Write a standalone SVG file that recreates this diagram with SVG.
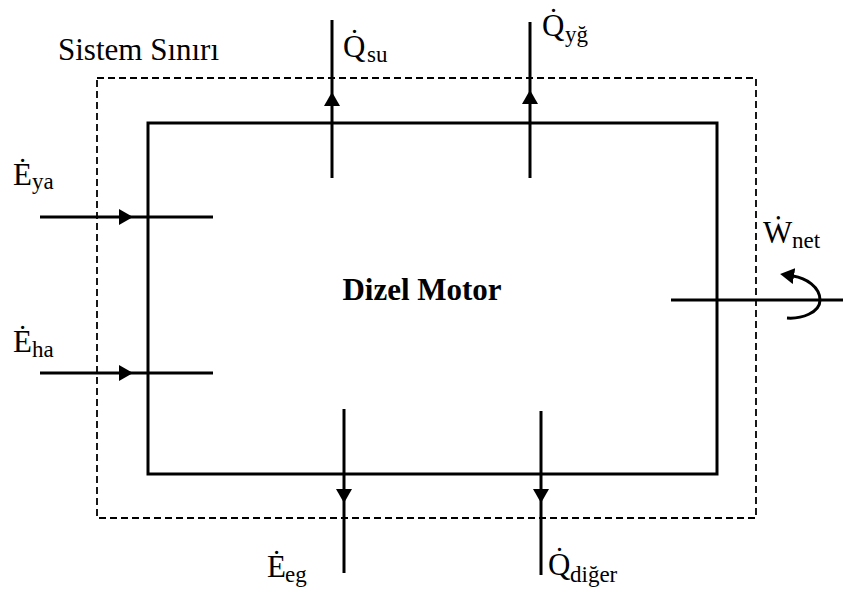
<svg xmlns="http://www.w3.org/2000/svg" width="843" height="592" viewBox="0 0 843 592">
  <style>
    text { font-family: 'Liberation Serif', 'Times New Roman', serif !important; fill: #000; }
    .solid { fill: none; stroke: #000; stroke-width: 3; }
    .dash { fill: none; stroke: #000; stroke-width: 1.8; stroke-dasharray: 7 4; }
    .flow { fill: none; stroke: #000; stroke-width: 3; marker-mid: url(#ah); }
  </style>
  <defs>
    <marker id="ah" markerUnits="userSpaceOnUse" viewBox="0 0 14 16" refX="14" refY="8" markerWidth="14" markerHeight="16" orient="auto">
      <path d="M0,0 L14,8 L0,16 Z" fill="#000"/>
    </marker>
    <marker id="ahEnd" markerUnits="userSpaceOnUse" viewBox="0 0 14 16" refX="1" refY="8" markerWidth="14" markerHeight="16" orient="auto">
      <path d="M0,0 L14,8 L0,16 Z" fill="#000"/>
    </marker>
  </defs>

  <g id="system-boundary">
    <rect class="dash" x="97" y="78" width="659" height="440"/>
    <text x="58" y="60" style="font-family:'Liberation Serif',serif;font-size:31px">Sistem S&#305;n&#305;r&#305;</text>
  </g>

  <g id="dizel-motor">
    <rect class="solid" x="148" y="123" width="569" height="351"/>
    <text x="422" y="300" text-anchor="middle" style="font-family:'Liberation Serif',serif;font-size:31px;font-weight:bold">Dizel Motor</text>
  </g>

  <g id="connectors">
    <path id="q-su" class="flow" d="M332,178 L332,92 L332,20"/>
    <path id="q-yg" class="flow" d="M530,178 L530,90 L530,22"/>
    <path id="e-ya" class="flow" d="M40,217 L133,217 L213,217"/>
    <path id="e-ha" class="flow" d="M40,373 L133,373 L213,373"/>
    <path id="e-eg" class="flow" d="M344,409 L344,503 L344,573"/>
    <path id="q-diger" class="flow" d="M541,411 L541,503 L541,575"/>
    <path id="w-net" class="solid" d="M671,300 L843,300"/>
    <path id="w-net-rot" class="solid" d="M787,318 C801,319 820,313 820,300 C820,287 806,278 793,276" marker-end="url(#ahEnd)"/>
  </g>

  <g id="label-q-su">
    <text x="343" y="57" style="font-family:'Liberation Serif',serif;font-size:31px">Q&#775;</text>
    <text x="367" y="62" style="font-family:'Liberation Serif',serif;font-size:23px">su</text>
  </g>
  <g id="label-q-yg">
    <text x="542" y="36" style="font-family:'Liberation Serif',serif;font-size:31px">Q&#775;</text>
    <text x="565" y="42" style="font-family:'Liberation Serif',serif;font-size:23px">y&#287;</text>
  </g>
  <g id="label-e-ya">
    <text x="13" y="185" style="font-family:'Liberation Serif',serif;font-size:31px">&#278;</text>
    <text x="32" y="189" style="font-family:'Liberation Serif',serif;font-size:23px">ya</text>
  </g>
  <g id="label-e-ha">
    <text x="13" y="352" style="font-family:'Liberation Serif',serif;font-size:31px">&#278;</text>
    <text x="32" y="357" style="font-family:'Liberation Serif',serif;font-size:23px">ha</text>
  </g>
  <g id="label-e-eg">
    <text x="267" y="577" style="font-family:'Liberation Serif',serif;font-size:31px">&#278;</text>
    <text x="285" y="582" style="font-family:'Liberation Serif',serif;font-size:23px">eg</text>
  </g>
  <g id="label-q-diger">
    <text x="548" y="575" style="font-family:'Liberation Serif',serif;font-size:31px">Q&#775;</text>
    <text x="570" y="582" style="font-family:'Liberation Serif',serif;font-size:23px">di&#287;er</text>
  </g>
  <g id="label-w-net">
    <text x="763" y="243" style="font-family:'Liberation Serif',serif;font-size:31px">&#7814;</text>
    <text x="792" y="248" style="font-family:'Liberation Serif',serif;font-size:23px">net</text>
  </g>
</svg>
